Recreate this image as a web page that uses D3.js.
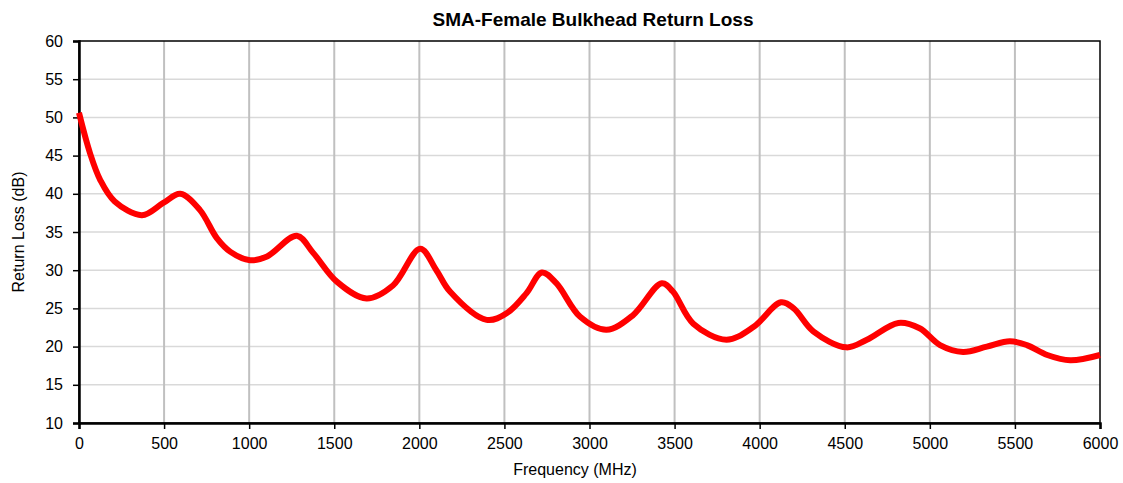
<!DOCTYPE html>
<html>
<head>
<meta charset="utf-8">
<script src="https://cdn.jsdelivr.net/npm/d3@7"></script>
<style>
  body { margin: 0; background: #fff; }
  text { font-family: "Liberation Sans", Arial, sans-serif; fill: #000; }
</style>
</head>
<body>
<div id="chart"></div>
<script>
// Return loss
var freqMHz = [0, 65, 125, 210, 370, 495, 595, 710, 810, 890, 1005, 1105, 1280, 1375, 1515, 1690,
  1845, 2005, 2100, 2180, 2395, 2515, 2630, 2720, 2805, 2945, 3100, 3255, 3425, 3490, 3610,
  3805, 3965, 4125, 4200, 4315, 4510, 4630, 4815, 4940, 5060, 5195, 5335, 5470, 5570, 5690,
  5825, 6000];
var returnLoss = [50.6, 45.3, 41.8, 39.0, 37.2, 38.8, 40.0, 37.9, 34.2, 32.4, 31.3, 31.8, 34.5, 32.3, 28.5, 26.3,
  28.0, 32.8, 30.0, 27.2, 23.5, 24.4, 27.0, 29.7, 28.3, 23.9, 22.2, 24.1, 28.3, 27.2, 23.0,
  20.9, 22.6, 25.8, 25.0, 22.0, 19.9, 20.9, 23.1, 22.4, 20.2, 19.3, 20.0, 20.7, 20.2, 18.9,
  18.2, 18.9];
var xTicks = [0, 500, 1000, 1500, 2000, 2500, 3000, 3500, 4000, 4500, 5000, 5500, 6000];
var yTicks = [10, 15, 20, 25, 30, 35, 40, 45, 50, 55, 60];

var W = 1123, H = 483;
var margin = { top: 41, right: 23, bottom: 60, left: 79 };
var width = W - margin.left - margin.right,
    height = H - margin.top - margin.bottom;

var data = freqMHz.map(function (f, i) { return { f: f, rl: returnLoss[i] }; });

var svg = d3.select("#chart").append("svg")
  .attr("width", W)
  .attr("height", H);

var g = svg.append("g")
  .attr("transform", "translate(" + margin.left + "," + margin.top + ")");

var x = d3.scaleLinear().domain([0, 6000]).range([0, width]);
var y = d3.scaleLinear().domain([10, 60]).range([height, 0]);

// horizontal grid
g.append("g")
  .selectAll("line")
  .data(yTicks.slice(1, -1))
  .enter().append("line")
  .attr("x1", 0).attr("x2", width)
  .attr("y1", function (d) { return y(d); })
  .attr("y2", function (d) { return y(d); })
  .style("stroke", "#d9d9d9")
  .style("stroke-width", 1.5);

// vertical grid
g.append("g")
  .selectAll("line")
  .data(xTicks.slice(1, -1))
  .enter().append("line")
  .attr("y1", 0).attr("y2", height)
  .attr("x1", function (d) { return x(d); })
  .attr("x2", function (d) { return x(d); })
  .style("stroke", "#c0c0c0")
  .style("stroke-width", 2);

// frame
g.append("rect")
  .attr("width", width).attr("height", height)
  .style("fill", "none")
  .style("stroke", "#000")
  .style("stroke-width", 1.5);

// axes
var xAxis = g.append("g")
  .attr("transform", "translate(0," + height + ")")
  .call(d3.axisBottom(x).tickValues(xTicks).tickSize(6).tickPadding(9).tickFormat(d3.format("d")));
var yAxis = g.append("g")
  .call(d3.axisLeft(y).tickValues(yTicks).tickSize(6).tickPadding(10));

[xAxis, yAxis].forEach(function (a) {
  a.select(".domain").style("stroke", "#000").style("stroke-width", 2.5);
  a.selectAll(".tick line").style("stroke", "#000").style("stroke-width", 1.5);
  a.selectAll(".tick text")
    .style("font-family", "'Liberation Sans', Arial, sans-serif")
    .style("font-size", "16px")
    .style("fill", "#000");
});

// curve
var line = d3.line()
  .x(function (d) { return x(d.f); })
  .y(function (d) { return y(d.rl); })
  .curve(d3.curveCatmullRom.alpha(0.5));

g.append("path")
  .datum(data)
  .attr("d", line)
  .style("fill", "none")
  .style("stroke", "#ff0000")
  .style("stroke-width", 6)
  .style("stroke-linejoin", "round");

// titles
svg.append("text")
  .attr("x", 593)
  .attr("y", 26)
  .attr("text-anchor", "middle")
  .style("font-size", "19px")
  .style("font-weight", "bold")
  .text("SMA-Female Bulkhead Return Loss");

svg.append("text")
  .attr("x", 575)
  .attr("y", 475)
  .attr("text-anchor", "middle")
  .style("font-size", "16px")
  .text("Frequency (MHz)");

svg.append("text")
  .attr("transform", "translate(24," + (margin.top + height / 2) + ") rotate(-90)")
  .attr("text-anchor", "middle")
  .style("font-size", "16px")
  .text("Return Loss (dB)");
</script>
</body>
</html>
